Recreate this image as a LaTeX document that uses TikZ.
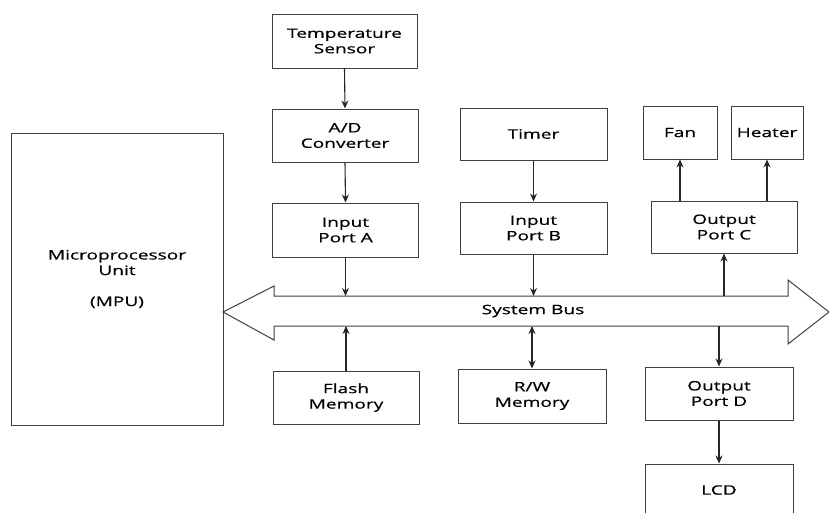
\documentclass[tikz,border=0pt]{standalone}
\usepackage{fontspec}
\setmainfont{Open Sans}[FakeStretch=1.47,FakeBold=0.6]
\usetikzlibrary{arrows.meta,calc}
\begin{document}
\begin{tikzpicture}[x=1pt,y=-1pt,
  blk/.style={draw=black!75,line width=1pt,align=center,inner sep=0pt,
    font=\fontsize{13}{15.5}\selectfont,text=black},
  arr/.style={draw=black!85,line width=1.1pt,-{Stealth[length=8pt,width=7pt]}},
  darr/.style={draw=black!85,line width=1.1pt,{Stealth[length=8pt,width=7pt]}-{Stealth[length=8pt,width=7pt]}},
  buss/.style={draw=black!75,line width=1pt,fill=white}]
\useasboundingbox (0,0) rectangle (829,512);
% system bus
\draw[buss] (223,312) -- (274,286) -- (274,296) -- (788,296) -- (788,280) -- (829,312)
  -- (788,344) -- (788,326) -- (274,326) -- (274,340) -- cycle;
\coordinate (bt) at (0,296);
\coordinate (bb) at (0,326);
\node[blk,draw=none] (buslabel) at (533,311) {System Bus};
% blocks
\node[blk,minimum width=212,minimum height=292] (mpu) at (117,279)
  {Microprocessor\\Unit\\\mbox{}\\(MPU)};
\node[blk,minimum width=145,minimum height=54] (temp) at (344.5,41) {Temperature\\Sensor};
\node[blk,minimum width=146,minimum height=53] (adc) at (345,135.5) {A/D\\Converter};
\node[blk,minimum width=146,minimum height=54] (ina) at (345.5,230) {Input\\Port A};
\node[blk,minimum width=146,minimum height=53] (flash) at (346,397.5) {Flash\\Memory};
\node[blk,minimum width=147,minimum height=52] (timer) at (533.5,134) {Timer};
\node[blk,minimum width=147,minimum height=52] (inb) at (533.5,228) {Input\\Port B};
\node[blk,minimum width=148,minimum height=54] (rw) at (532,396) {R/W\\Memory};
\node[blk,minimum width=146,minimum height=52] (outc) at (724,227) {Output\\Port C};
\node[blk,minimum width=74,minimum height=53] (fan) at (680,132.5) {Fan};
\node[blk,minimum width=72,minimum height=53] (heater) at (767,132.5) {Heater};
\node[blk,minimum width=148,minimum height=53] (outd) at (719,393.5) {Output\\Port D};
\node[blk,minimum width=148,minimum height=52] (lcd) at (719,490) {LCD};
% connectors
\draw[arr] (temp.south) -- (adc.north);
\draw[arr] (adc.south) -- (ina.north);
\draw[arr] (ina.south) -- (ina.south |- bt);
\draw[arr] (flash.north) -- (flash.north |- bb);
\draw[arr] (timer.south) -- (inb.north);
\draw[arr] (inb.south) -- (inb.south |- bt);
\draw[darr] (rw.north) -- (rw.north |- bb);
\draw[arr] (outc.south |- bt) -- (outc.south);
\draw[arr] (fan.south |- outc.north) -- (fan.south);
\draw[arr] (heater.south |- outc.north) -- (heater.south);
\draw[arr] (outd.north |- bb) -- (outd.north);
\draw[arr] (outd.south) -- (lcd.north);
\end{tikzpicture}
\end{document}
